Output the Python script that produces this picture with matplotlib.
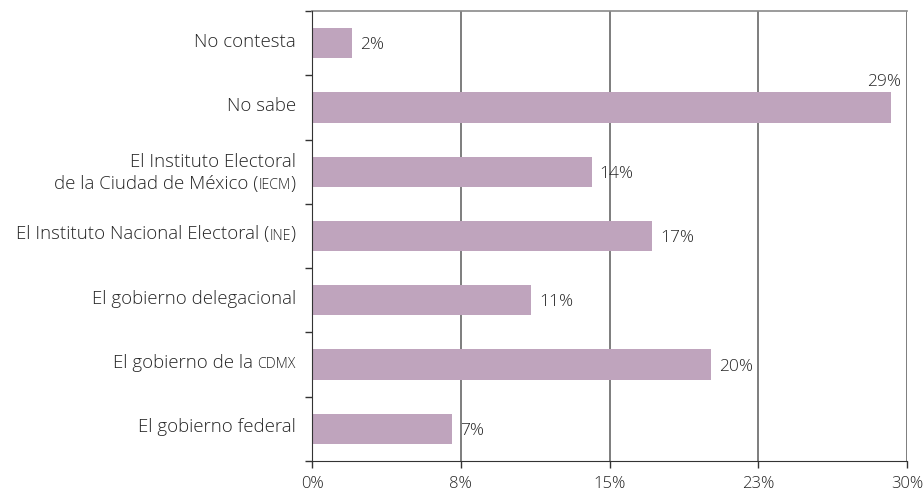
import matplotlib
matplotlib.use("Agg")
import matplotlib.pyplot as plt
from matplotlib.transforms import IdentityTransform

plt.rcParams['font.family'] = ['Open Sans', 'DejaVu Sans']

categories = [
    "No contesta",
    "No sabe",
    "El Instituto Electoral\nde la Ciudad de México ({IECM})",
    "El Instituto Nacional Electoral ({INE})",
    "El gobierno delegacional",
    "El gobierno de la {CDMX}",
    "El gobierno federal",
]
values = [2.0, 29.2, 14.1, 17.15, 11.05, 20.1, 7.05]
value_labels = ["2%", "29%", "14%", "17%", "11%", "20%", "7%"]
xticks = [0, 7.5, 15, 22.5, 30]
xtick_labels = ["0%", "8%", "15%", "23%", "30%"]

BAR = "#BFA4BD"
TXT = "#262626"
W, H = 923, 489
WEIGHT = 300

fig = plt.figure(figsize=(W / 100, H / 100), dpi=100)
ax = fig.add_axes([312 / W, 27 / H, 595 / W, 450 / H])

n = len(categories)
ypos = list(range(n))
ax.barh(ypos, values, height=0.47, color=BAR, zorder=3)
ax.set_xlim(0, 30)
ax.set_ylim(n - 0.5, -0.5)

ax.set_xticks(xticks)
ax.set_xticklabels(xtick_labels, fontsize=12, color=TXT, fontweight=WEIGHT)
ax.set_yticks([i - 0.5 for i in range(n + 1)])
ax.set_yticklabels([])
ax.tick_params(axis='x', length=5, width=1, color="#333333", pad=5)
ax.tick_params(axis='y', length=5, width=1, color="#333333")
ax.grid(axis='x', color="#5a5a5a", linewidth=1.1, zorder=0)
ax.grid(axis='y', visible=False)
ax.spines['right'].set_visible(False)
ax.spines['top'].set_color("#8a8a8a")
ax.spines['top'].set_linewidth(1.2)
ax.spines['left'].set_color("#333333")
ax.spines['bottom'].set_color("#333333")
ax.spines['left'].set_zorder(4)

fig.canvas.draw()
renderer = fig.canvas.get_renderer()

CAT_FS = 13.4
SC_FS = CAT_FS * 0.76
space_px = CAT_FS * 100 / 72 * 0.26


def parse(line):
    parts = []
    toks = line.replace('}', '{').split('{')
    for k, t in enumerate(toks):
        if t:
            parts.append((t, k % 2 == 1))
    return parts


def draw_line(line, baseline):
    x = ax.transAxes.transform((0, 0))[0] - 16
    for text, sc in reversed(parse(line)):
        trail = len(text) - len(text.rstrip(' '))
        x -= trail * space_px
        core = text.strip(' ')
        t = fig.text(x, baseline, core, transform=IdentityTransform(),
                     ha='right', va='baseline', color=TXT, fontweight=WEIGHT,
                     fontsize=SC_FS if sc else CAT_FS)
        w = t.get_window_extent(renderer).width
        x -= w
        lead = len(text) - len(text.lstrip(' '))
        x -= lead * space_px


for i, cat in enumerate(categories):
    cy = ax.transData.transform((0, i))[1]
    lines = cat.split('\n')
    if len(lines) == 1:
        draw_line(lines[0], cy - 2.5)
    else:
        draw_line(lines[0], cy + 5.5)
        draw_line(lines[1], cy - 16.5)

for i, (v, lab) in enumerate(zip(values, value_labels)):
    bx, cy = ax.transData.transform((v, i))
    if v > 27:
        fig.text(bx + 10, cy + 22, lab, transform=IdentityTransform(),
                 ha='right', va='baseline', fontsize=12.5, color=TXT,
                 fontweight=WEIGHT)
    else:
        fig.text(bx + 8, cy - 5, lab, transform=IdentityTransform(),
                 ha='left', va='baseline', fontsize=12.5, color=TXT,
                 fontweight=WEIGHT)

fig.savefig("out.png", dpi=100)
